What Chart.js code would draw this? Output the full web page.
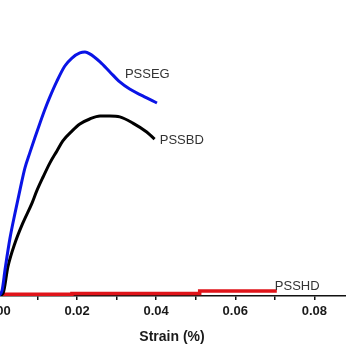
<!DOCTYPE html>
<html>
<head>
<meta charset="utf-8">
<script src="https://cdn.jsdelivr.net/npm/chart.js@4/dist/chart.umd.min.js"></script>
<style>
  html, body { margin: 0; padding: 0; background: #fff; overflow: hidden; }
  #wrap { position: absolute; left: -30px; top: 0; width: 376px; height: 346px; }
</style>
</head>
<body>
<div id="wrap"><canvas id="c"></canvas></div>
<script>
// Stress-strain curves of three samples
const seriesNames = ['PSSEG', 'PSSBD', 'PSSHD'];

const strainEG = [0, 0.0010, 0.0018, 0.0030, 0.0043, 0.0056, 0.0068, 0.0081, 0.0093, 0.0106, 0.0119, 0.0131, 0.0149, 0.0169, 0.0187, 0.0207, 0.0220, 0.0232, 0.0258, 0.0283, 0.0308, 0.0333, 0.0366, 0.0402];
const stressEG = [0, 1.7, 9.1, 19.3, 28.0, 36.1, 43.2, 48.6, 53.4, 58.4, 63.2, 67.2, 72.6, 77.7, 80.4, 82.1, 82.4, 81.8, 79.1, 75.7, 72.3, 69.9, 67.6, 65.2];

const strainBD = [0, 0.0013, 0.0025, 0.0043, 0.0063, 0.0086, 0.0098, 0.0114, 0.0131, 0.0149, 0.0164, 0.0187, 0.0207, 0.0232, 0.0258, 0.0283, 0.0308, 0.0341, 0.0376, 0.0396];
const stressBD = [0, 1.0, 9.8, 17.9, 24.7, 31.4, 35.5, 40.2, 44.9, 49.0, 52.4, 55.7, 58.1, 59.8, 60.8, 60.8, 60.5, 58.4, 55.4, 53.0];

const strainHD = [0, 0.0187, 0.0187, 0.0510, 0.0510, 0.0705];
const stressHD = [0.6, 0.6, 0.85, 0.85, 1.7, 1.7];

const xTicks = [0, 0.02, 0.04, 0.06, 0.08];

const toPoints = (xs, ys) => xs.map((x, i) => ({ x, y: ys[i] }));

// Writes each curve's name next to it, placed in data coordinates
const curveLabels = {
  id: 'curveLabels',
  afterDatasetsDraw(chart, args, opts) {
    const { ctx, scales } = chart;
    ctx.save();
    ctx.font = '13px "Liberation Sans", Arial, sans-serif';
    ctx.fillStyle = '#333333';
    ctx.textBaseline = 'middle';
    ctx.textAlign = 'left';
    opts.items.forEach(it => {
      ctx.fillText(it.text, scales.x.getPixelForValue(it.x), scales.y.getPixelForValue(it.y));
    });
    ctx.restore();
  }
};

new Chart(document.getElementById('c'), {
  type: 'line',
  data: {
    datasets: [
      { label: seriesNames[0], data: toPoints(strainEG, stressEG), borderColor: '#0a14e6', borderWidth: 3, cubicInterpolationMode: 'monotone' },
      { label: seriesNames[1], data: toPoints(strainBD, stressBD), borderColor: '#000000', borderWidth: 3, cubicInterpolationMode: 'monotone' },
      { label: seriesNames[2], data: toPoints(strainHD, stressHD), borderColor: '#e0141a', borderWidth: 3.5, tension: 0 }
    ]
  },
  options: {
    responsive: true,
    maintainAspectRatio: false,
    animation: false,
    events: [],
    elements: { point: { radius: 0 } },
    layout: { padding: { left: 28, right: 0, top: 0, bottom: 0 } },
    plugins: {
      legend: { display: false },
      tooltip: { enabled: false },
      curveLabels: {
        items: [
          { text: seriesNames[0], x: 0.0321, y: 74.7 },
          { text: seriesNames[1], x: 0.0409, y: 52.7 },
          { text: seriesNames[2], x: 0.0700, y: 3.3 }
        ]
      }
    },
    scales: {
      x: {
        type: 'linear',
        min: 0,
        max: 0.088,
        afterFit(scale) { scale.height = 50; },
        border: { display: true, color: '#111', width: 1.5 },
        grid: { display: true, drawOnChartArea: false, drawTicks: true, tickLength: 4, color: '#111', lineWidth: 1.5 },
        ticks: {
          stepSize: 0.01,
          includeBounds: false,
          maxRotation: 0,
          autoSkip: false,
          padding: 4,
          color: '#1a1a1a',
          font: { family: '"Liberation Sans", Arial, sans-serif', size: 13, weight: 'bold' },
          callback(value) {
            const hit = xTicks.find(t => Math.abs(t - value) < 1e-9);
            return hit === undefined ? '' : hit.toFixed(2);
          }
        },
        title: {
          display: true,
          text: 'Strain (%)',
          color: '#1a1a1a',
          padding: { top: 4, bottom: 0 },
          font: { family: '"Liberation Sans", Arial, sans-serif', size: 14, weight: 'bold' }
        }
      },
      y: {
        display: false,
        min: 0,
        max: 100
      }
    }
  },
  plugins: [curveLabels]
});
</script>
</body>
</html>
